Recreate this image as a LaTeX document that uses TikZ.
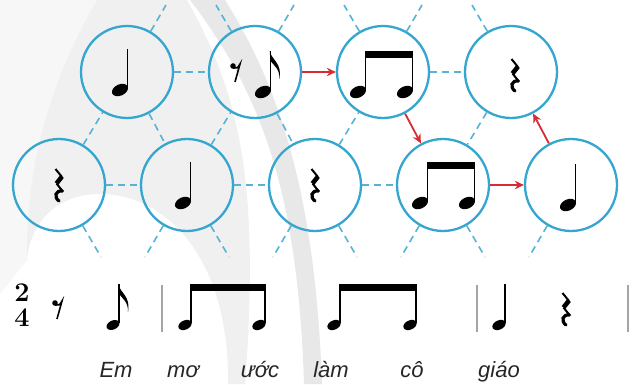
\documentclass[tikz,border=0pt]{standalone}
\usepackage{fontspec}
\setsansfont{Liberation Sans}
\usetikzlibrary{arrows.meta,calc}
\definecolor{cblue}{RGB}{52,166,207}
\definecolor{lblue}{RGB}{88,178,214}
\definecolor{ared}{RGB}{214,45,52}
\definecolor{barg}{RGB}{165,165,165}
\newcommand{\ncirc}[3]{\node[notecirc] (#3) at (#1,#2) {};}
\newcommand{\latedge}[2]{\draw[latline] (#1) -- (#2);}
\newcommand{\redge}[2]{\draw[redarrow] (#1) -- (#2);}
\tikzset{
  notecirc/.style={circle,draw=cblue,line width=2.3pt,minimum size=92pt,inner sep=0pt},
  latline/.style={lblue,line width=1.6pt,dash pattern=on 7pt off 5pt},
  redarrow/.style={ared,line width=1.8pt,-{Stealth[length=9pt,width=8.5pt]}},
  stemline/.style={line width=1.5pt},
  barline/.style={barg,line width=1.6pt},
  lyric/.style={anchor=base,font=\fontsize{22}{24}\selectfont\sffamily\itshape,text=black!85},
  tsig/.style={font=\fontsize{27}{27}\selectfont\bfseries,inner sep=0pt},
  pics/qnote/.style={code={
    \fill[rotate=25] (0,0) ellipse [x radius=#1,y radius=0.66*#1];
    \draw[stemline] (0.88*#1,0.3*#1) -- (0.88*#1,41);}},
  pics/enote/.style={code={
    \fill[rotate=25] (0,0) ellipse [x radius=#1,y radius=0.66*#1];
    \draw[stemline] (0.88*#1,0.3*#1) -- (0.88*#1,41);
    \fill (0.88*#1-0.75,41) .. controls (0.88*#1+1,32) and (0.88*#1+12,29) .. (0.88*#1+9,13)
      .. controls (0.88*#1+9.5,23) and (0.88*#1+3,27) .. (0.88*#1,31) -- cycle;}},
  pics/epair/.style 2 args={code={
    \fill[rotate=25] (0,0) ellipse [x radius=#1,y radius=0.66*#1];
    \fill[shift={(#2,0)},rotate=25] (0,0) ellipse [x radius=#1,y radius=0.66*#1];
    \draw[stemline] (0.88*#1,0.3*#1) -- (0.88*#1,40);
    \draw[stemline] (#2+0.88*#1,0.3*#1) -- (#2+0.88*#1,40);
    \fill (0.88*#1-0.75,34) rectangle (#2+0.88*#1+0.75,41);}},
  pics/qrest/.style={code={
    \draw[line width=2pt] (-3.5,16) -- (3,8);
    \draw[line width=4.6pt] (3,8.5) -- (-2.5,1.5);
    \draw[line width=2pt] (-2.5,1.5) -- (3.5,-6);
    \draw[line width=3.2pt,line cap=round] (3.5,-6) .. controls (-3.5,-5) and (-5.5,-12) .. (0,-16);}},
  pics/erest/.style={code={
    \fill (-3,6) circle (2.8);
    \draw[line width=1.6pt] (-3,4) .. controls (0,3) and (2,4) .. (4,8) -- (-1,-10);}}
}

\begin{document}
\begin{tikzpicture}[x=1pt,y=1pt]
	\useasboundingbox (0,0) rectangle (641,384);
	\fill[white] (0,0) rectangle (641,384);
	\fill[gray!6] (0,384) -- (97,384) .. controls (50,304) and (25,214) .. (27,124) -- (0,90) -- cycle;
	\fill[gray!12] (97,384) -- (187,384) .. controls (240,290) and (260,200) .. (245,0) -- (228,0)
		.. controls (230,120) and (170,190) .. (100,190) .. controls (55,190) and (30,160) .. (27,124)
		.. controls (25,214) and (50,304) .. (97,384) -- cycle;
	\fill[gray!18] (190,384) -- (225,384) .. controls (275,304) and (315,200) .. (322,0) -- (304,0)
		.. controls (298,190) and (262,290) .. (190,384) -- cycle;
	\ncirc{127}{312}{t1} \ncirc{255}{312}{t2} \ncirc{383}{312}{t3} \ncirc{511}{312}{t4}
	\ncirc{59}{199}{b1} \ncirc{187}{199}{b2} \ncirc{315}{199}{b3} \ncirc{443}{199}{b4} \ncirc{571}{199}{b5}
	\coordinate (u1) at (166,379); \coordinate (u2) at (216,379); \coordinate (u3) at (294,379);
	\coordinate (u4) at (344,379); \coordinate (u5) at (422,379); \coordinate (u6) at (472,379);
	\coordinate (d1) at (101,127); \coordinate (d2) at (145,127); \coordinate (d3) at (229,127);
	\coordinate (d4) at (273,127); \coordinate (d5) at (357,127); \coordinate (d6) at (401,127);
	\coordinate (d7) at (485,127); \coordinate (d8) at (529,127);
	\latedge{t1}{t2} \latedge{t3}{t4} \latedge{b1}{b2} \latedge{b2}{b3} \latedge{b3}{b4}
	\latedge{b1}{t1} \latedge{t1}{b2} \latedge{b2}{t2} \latedge{t2}{b3} \latedge{b3}{t3} \latedge{t4}{b4}
	\latedge{t1}{u1} \latedge{t2}{u2} \latedge{t2}{u3} \latedge{t3}{u4} \latedge{t3}{u5} \latedge{t4}{u6}
	\latedge{b1}{d1} \latedge{b2}{d2} \latedge{b2}{d3} \latedge{b3}{d4} \latedge{b3}{d5}
	\latedge{b4}{d6} \latedge{b4}{d7} \latedge{b5}{d8}
	\redge{t2}{t3} \redge{t3}{b4} \redge{b4}{b5} \redge{b5}{t4}
	\pic at ($(t1)+(-7,-18)$) {qnote=8.5};
	\pic at ($(t2)+(-19,0)$) {erest};
	\pic at ($(t2)+(8,-20)$) {enote=8.5};
	\pic at ($(t3)+(-25,-20)$) {epair={8.5}{47}};
	\pic at ($(t4)+(4,-3)$) {qrest};
	\pic at (b1) {qrest};
	\pic at ($(b2)+(-4,-18)$) {qnote=8.5};
	\pic at (b3) {qrest};
	\pic at ($(b4)+(-23,-18)$) {epair={8.5}{47}};
	\pic at ($(b5)+(-3,-20)$) {qnote=8.5};
	\node[tsig] (ts2) at (22,91) {2};
	\node[tsig] (ts4) at (22,66) {4};
	\pic at (58,75) {erest};
	\pic at (113,59) {enote=6.8};
	\draw[barline] (162,52) -- (162,99);
	\pic at (185,59) {epair={7}{74}};
	\pic at (334,59) {epair={7}{76}};
	\draw[barline] (477,52) -- (477,99);
	\pic at (499,59) {qnote=7};
	\pic at (566,75) {qrest};
	\draw[barline] (628,52) -- (628,99);
	\node[lyric] (w1) at (116,7) {Em};
	\node[lyric] (w2) at (183,7) {mơ};
	\node[lyric] (w3) at (260,7) {ước};
	\node[lyric] (w4) at (331,7) {làm};
	\node[lyric] (w5) at (412,7) {cô};
	\node[lyric] (w6) at (499,7) {giáo};
\end{tikzpicture}
\end{document}
